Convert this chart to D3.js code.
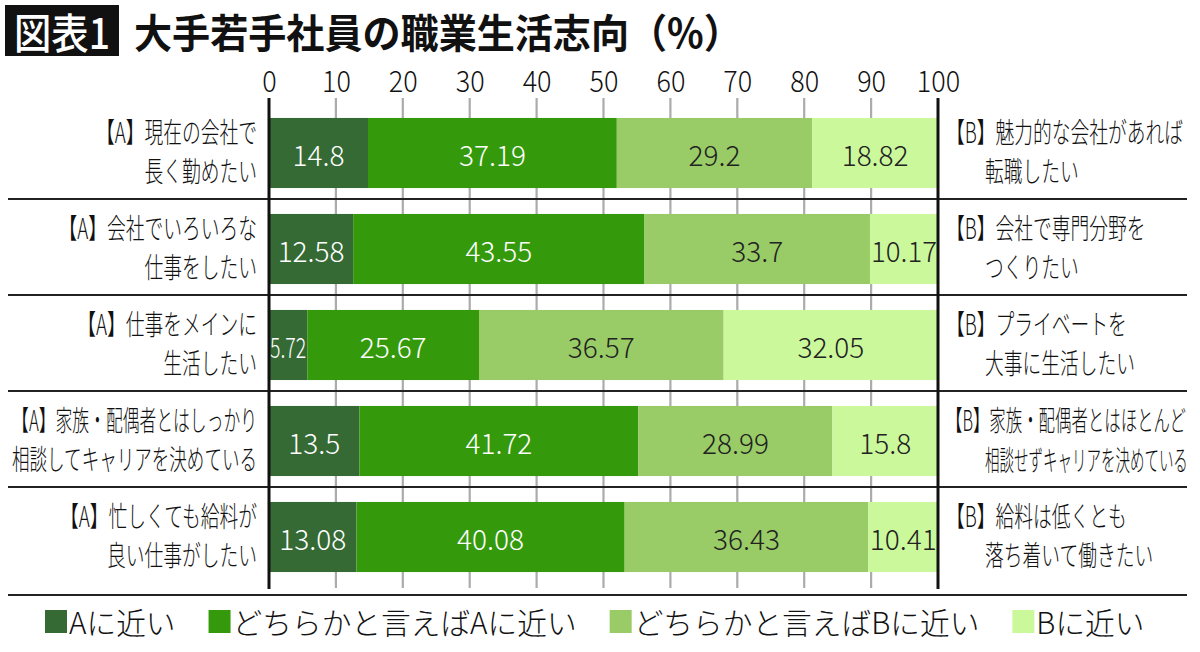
<!DOCTYPE html>
<html>
<head>
<meta charset="utf-8">
<script src="https://cdn.jsdelivr.net/npm/d3@7"></script>
<style>
  html, body { margin: 0; padding: 0; background: #fff; }
  svg { display: block; font-family: "Noto Sans CJK JP", "Noto Sans", sans-serif; }
</style>
</head>
<body>
<svg id="chart" width="1200" height="652"></svg>
<script>
// ---------- data ----------
const titleBox = "図表1";
const titleText = "大手若手社員の職業生活志向（%）";
const labelsA = [
  ["【A】現在の会社で", "長く勤めたい"],
  ["【A】会社でいろいろな", "仕事をしたい"],
  ["【A】仕事をメインに", "生活したい"],
  ["【A】家族・配偶者とはしっかり", "相談してキャリアを決めている"],
  ["【A】忙しくても給料が", "良い仕事がしたい"]
];
const labelsB = [
  ["【B】魅力的な会社があれば", "転職したい"],
  ["【B】会社で専門分野を", "つくりたい"],
  ["【B】プライベートを", "大事に生活したい"],
  ["【B】家族・配偶者とはほとんど", "相談せずキャリアを決めている"],
  ["【B】給料は低くとも", "落ち着いて働きたい"]
];
const seriesNames = ["Aに近い", "どちらかと言えばAに近い", "どちらかと言えばBに近い", "Bに近い"];
const closeA = [14.8, 12.58, 5.72, 13.5, 13.08];
const leanA  = [37.19, 43.55, 25.67, 41.72, 40.08];
const leanB  = [29.2, 33.7, 36.57, 28.99, 36.43];
const closeB = [18.82, 10.17, 32.05, 15.8, 10.41];
const tickValues = [0, 10, 20, 30, 40, 50, 60, 70, 80, 90, 100];
const colors = ["#356a35", "#349a0c", "#99cc66", "#ccf89c"];
const labelColors = ["#ffffff", "#ffffff", "#222222", "#222222"];

// ---------- build ----------
const rows = labelsA.map((d, i) => ({
  idx: i,
  s0: closeA[i], s1: leanA[i], s2: leanB[i], s3: closeB[i]
}));
const keys = ["s0", "s1", "s2", "s3"];
const stacked = d3.stack().keys(keys)(rows);

const svg = d3.select("#chart");
const x = d3.scaleLinear().domain([0, 100]).range([269, 938]);
const y = d3.scaleBand().domain(rows.map(d => d.idx)).range([105, 585]).paddingInner(0.27).paddingOuter(0.135);

// fit helper: horizontally condense text to default scale or to max width
function fitText(sel, defScale, maxW, exact) {
  sel.each(function () {
    const t = d3.select(this);
    const w = this.getComputedTextLength();
    let s = defScale;
    if (exact) s = maxW / w;
    else if (maxW && w * s > maxW) s = maxW / w;
    const tx = +t.attr("data-x"), ty = +t.attr("data-y");
    t.attr("x", null).attr("y", null)
     .attr("transform", `translate(${tx},${ty}) scale(${s},1)`);
  });
}

// title
svg.append("rect").attr("x", 5).attr("y", 5).attr("width", 114).attr("height", 51).attr("fill", "#111");
svg.append("text").attr("data-x", 62).attr("data-y", 31)
  .attr("text-anchor", "middle").attr("dominant-baseline", "central")
  .attr("font-size", 42).attr("font-weight", 500).attr("fill", "#fff")
  .text(titleBox).call(fitText, 1, 96, true);
svg.append("text").attr("data-x", 134).attr("data-y", 31)
  .attr("dominant-baseline", "central")
  .attr("font-size", 40).attr("font-weight", 700).attr("fill", "#111")
  .text(titleText).call(fitText, 1, 608, true);

// gridlines
const gridG = svg.append("g");
gridG.selectAll("line").data(tickValues.filter(v => v > 0 && v < 100)).join("line")
  .attr("x1", d => x(d)).attr("x2", d => x(d))
  .attr("y1", 98).attr("y2", 588)
  .attr("stroke", "#ababab").attr("stroke-width", 2.2);

// separators
const sepG = svg.append("g");
const sepYs = rows.slice(0, -1).map(d => y(d.idx) + y.bandwidth() + (y.step() - y.bandwidth()) / 2 - 2);
sepYs.push(595);
sepG.selectAll("line").data(sepYs).join("line")
  .attr("x1", 8).attr("x2", 1187).attr("y1", d => d).attr("y2", d => d)
  .attr("stroke", "#222").attr("stroke-width", 2);

// bars
const barG = svg.append("g");
stacked.forEach((layer, li) => {
  const g = barG.append("g");
  g.selectAll("rect").data(layer).join("rect")
    .attr("x", d => x(d[0])).attr("width", d => x(d[1]) - x(d[0]))
    .attr("y", d => y(d.data.idx)).attr("height", y.bandwidth())
    .attr("fill", colors[li]);
  g.selectAll("text").data(layer).join("text")
    .attr("data-x", d => (x(d[0]) + x(d[1])) / 2)
    .attr("data-y", d => y(d.data.idx) + y.bandwidth() / 2 + 1)
    .attr("text-anchor", "middle").attr("dominant-baseline", "central")
    .attr("font-size", 28).attr("font-weight", 300)
    .attr("fill", labelColors[li])
    .text(d => String(d.data[keys[li]]))
    .each(function (d) {
      const w = x(d[1]) - x(d[0]) - 2;
      d3.select(this).call(fitText, 1, w);
    });
});

// axis lines at 0 and 100
svg.append("g").selectAll("line").data([0, 100]).join("line")
  .attr("x1", d => x(d)).attr("x2", d => x(d))
  .attr("y1", 98).attr("y2", 589)
  .attr("stroke", "#111").attr("stroke-width", 3);

// top axis tick labels
const axisG = svg.append("g").attr("transform", "translate(0,92)")
  .call(d3.axisTop(x).tickValues(tickValues).tickSize(0).tickPadding(0).tickFormat(d3.format("d")));
axisG.select(".domain").remove();
axisG.selectAll("text")
  .attr("font-size", 30).attr("font-family", "\"Noto Sans CJK JP\", sans-serif")
  .attr("font-weight", 300).attr("fill", "#111")
  .attr("dy", 0)
  .each(function () { d3.select(this).attr("transform", "scale(0.9,1)").attr("x", 0); });

// left labels
const leftG = svg.append("g");
labelsA.forEach((lines, i) => {
  const cy = y(i) + y.bandwidth() / 2;
  lines.forEach((ln, j) => {
    leftG.append("text")
      .attr("data-x", 257).attr("data-y", cy + (j === 0 ? -22 : 17))
      .attr("text-anchor", "end").attr("dominant-baseline", "central")
      .attr("font-size", 28).attr("font-weight", 300).attr("fill", "#111")
      .text(ln).call(fitText, 0.67, 245);
  });
});

// right labels
const rightG = svg.append("g");
labelsB.forEach((lines, i) => {
  const cy = y(i) + y.bandwidth() / 2;
  rightG.append("text")
    .attr("data-x", 946).attr("data-y", cy - 22)
    .attr("dominant-baseline", "central")
    .attr("font-size", 28).attr("font-weight", 300).attr("fill", "#111")
    .text(lines[0]).call(fitText, 0.67, 240);
  rightG.append("text")
    .attr("data-x", 985).attr("data-y", cy + 17)
    .attr("dominant-baseline", "central")
    .attr("font-size", 28).attr("font-weight", 300).attr("fill", "#111")
    .text(lines[1]).call(fitText, 0.67, 203);
});

// legend
const legG = svg.append("g");
let lx = 45;
const legScale = 0.99;
seriesNames.forEach((name, i) => {
  legG.append("rect").attr("x", lx).attr("y", 610).attr("width", 22).attr("height", 23).attr("fill", colors[i]);
  const t = legG.append("text")
    .attr("data-x", lx + 24).attr("data-y", 621)
    .attr("dominant-baseline", "central")
    .attr("font-size", 30).attr("font-weight", 300).attr("fill", "#111")
    .text(name);
  t.call(fitText, legScale, 400);
  const w = t.node().getComputedTextLength() * legScale;
  lx = lx + 24 + w + 33;
});
</script>
</body>
</html>
